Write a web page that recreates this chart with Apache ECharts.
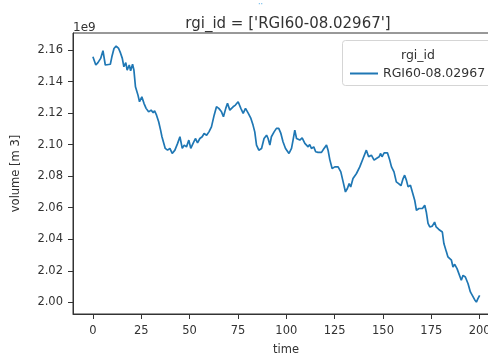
<!DOCTYPE html>
<html>
<head>
<meta charset="utf-8">
<script src="https://cdn.jsdelivr.net/npm/echarts@6/dist/echarts.min.js"></script>
<style>html,body{margin:0;padding:0;background:#fff}#c{width:488px;height:354px}</style>
</head>
<body>
<div id="c"></div>
<script>
// time (years) and volume (in units of 1e9 m3)
var times = [0,1,1.5,2.6,4,5.2,6.4,7.4,9,9.8,10.9,12,13.3,14.3,15.2,16,17,17.7,18.8,19.5,20.5,21.2,22,23.3,24.1,25.3,26.4,27.5,28.8,30.1,31.2,31.9,32.9,34,35,35.7,36.7,37.4,38.6,39.8,41,42.4,43.8,45,46.2,47.2,48.4,49.6,50.6,51.8,53,54.1,55.3,56.5,57.5,58.8,60,61.3,62.7,63.9,65.1,66.5,67.5,68.7,69.6,70.8,71.7,72.5,73.7,75.1,76.5,77.7,78.9,80.3,81.7,82.8,83.7,84.6,85.8,87.2,88.5,89.8,90.6,91.5,92.3,93.7,94.9,96.1,97.2,98.3,99.6,100.6,101.4,102.7,103.5,104.4,105.3,106.1,107,108.2,109.6,110.4,111.3,112.1,113,114.2,115.2,116.4,118.2,119.5,120.8,121.6,122.5,123.7,125.1,126.8,128.2,129.4,130.6,131.6,132.5,133.3,134.5,136.3,138,139.7,141.4,142.6,144,145.4,146.6,148,148.8,149.5,150.6,152.3,153.5,154.4,155.7,156.9,158.1,159.3,160.4,161.2,162.1,163,164.2,165.2,166.4,167.3,168.6,170.4,171.6,172.4,173.3,174.2,175.5,176.7,177.5,178.9,180.7,181.5,182.8,183.6,184.5,185.4,186.2,187.1,188.3,189.3,190.5,191.4,192.6,194,195.2,196.2,197.4,198.3,199.1,200];
var volumes = [2.1557,2.1547,2.1505,2.152,2.1547,2.1596,2.1505,2.1498,2.151,2.1557,2.161,2.1625,2.161,2.158,2.1547,2.1494,2.152,2.1473,2.1505,2.1469,2.151,2.1473,2.1367,2.1314,2.1272,2.1303,2.1262,2.123,2.1208,2.1219,2.1202,2.1215,2.1187,2.1145,2.1092,2.105,2.1039,2.0976,2.0965,2.0976,2.0944,2.0965,2.1008,2.105,2.0976,2.0997,2.0986,2.1029,2.0976,2.1008,2.1039,2.1011,2.1039,2.105,2.1071,2.106,2.1081,2.1113,2.1187,2.124,2.123,2.1208,2.1177,2.123,2.1262,2.1219,2.1208,2.124,2.1251,2.1272,2.123,2.1198,2.123,2.120,2.1166,2.1124,2.1081,2.0997,2.0965,2.0976,2.1039,2.106,2.1039,2.0997,2.105,2.1081,2.1103,2.1103,2.1071,2.1018,2.0976,2.0965,2.0944,2.0976,2.1029,2.1092,2.1039,2.105,2.1029,2.1043,2.1008,2.1018,2.0986,2.1001,2.0976,2.0986,2.0955,2.0951,2.0951,2.0976,2.0997,2.0965,2.0905,2.0849,2.0859,2.0859,2.0827,2.0764,2.07,2.0722,2.0753,2.0732,2.0785,2.0817,2.0859,2.0912,2.0965,2.0923,2.0933,2.0902,2.0912,2.0923,2.0944,2.0923,2.0948,2.0948,2.0902,2.0859,2.0827,2.0764,2.0753,2.074,2.0785,2.0806,2.0775,2.0732,2.0743,2.0732,2.0648,2.0584,2.0595,2.0595,2.0616,2.0573,2.05,2.0478,2.0483,2.0509,2.0478,2.0462,2.0446,2.0373,2.032,2.0288,2.0298,2.0267,2.0224,2.0241,2.0214,2.0203,2.014,2.0171,2.0161,2.0118,2.0066,2.0044,2.0017,2.0002,2.0023,2.0044];
var xTicks = [0,25,50,75,100,125,150,175,200];
var yTicks = [2.00,2.02,2.04,2.06,2.08,2.10,2.12,2.14,2.16];
var seriesName = 'RGI60-08.02967';

var data = times.map(function(t,i){return [t, volumes[i]];});
var FONT = 'DejaVu Sans';
var TXT = '#333';
var chart = echarts.init(document.getElementById('c'), null, {renderer:'canvas'});
chart.setOption({
  animation:false,
  backgroundColor:'#fff',
  title:{text:"rgi_id = ['RGI60-08.02967']", left:283, top:12, textAlign:'center',
    textStyle:{fontFamily:FONT, fontSize:15, fontWeight:'normal', color:TXT}},
  grid:{left:73, top:33, width:426, height:281, outerBoundsMode:'none', containLabel:false,
    show:true, borderColor:'#333', borderWidth:1, backgroundColor:'transparent'},
  legend:{data:[{name:seriesName, icon:'rect'}], left:345, top:62, itemWidth:28, itemHeight:2, itemGap:6, z:10,
    textStyle:{fontFamily:FONT, fontSize:12.5, color:TXT}},
  xAxis:{type:'value', min:-10.3, max:210, name:'time', nameLocation:'middle', nameGap:30,
    nameTextStyle:{fontFamily:FONT, fontSize:11.5, color:TXT},
    axisLine:{show:true, onZero:false, lineStyle:{color:'#333', width:1}},
    axisTick:{show:true, length:5, lineStyle:{color:'#333'}, customValues:xTicks},
    axisLabel:{fontFamily:FONT, fontSize:11.5, color:TXT, margin:11, customValues:xTicks,
      formatter:function(v){return String(v);}},
    splitLine:{show:false}},
  yAxis:{type:'value', min:1.9926, max:2.1708, name:'volume [m 3]', nameLocation:'middle', nameGap:51,
    nameTextStyle:{fontFamily:FONT, fontSize:11.5, color:TXT},
    axisLine:{show:true, onZero:false, lineStyle:{color:'#333', width:1}},
    axisTick:{show:true, length:5, lineStyle:{color:'#333'}, customValues:yTicks},
    axisLabel:{fontFamily:FONT, fontSize:11.5, color:TXT, margin:10, customValues:yTicks,
      formatter:function(v){return v.toFixed(2);}},
    splitLine:{show:false}},
  graphic:[
    {type:'rect', shape:{x:342.5, y:40.5, width:160, height:45, r:3},
      style:{fill:'rgba(255,255,255,0.8)', stroke:'#d5d5d5', lineWidth:1}, z:3},
    {type:'text', x:418, y:49, style:{text:'rgi_id', fontFamily:FONT, fontSize:12.5, fill:TXT, textAlign:'center'}, z:10},
    {type:'text', x:73, y:22, style:{text:'1e9', fontFamily:FONT, fontSize:12, fill:TXT}},
    {type:'text', x:258, y:1, style:{text:'··', fontFamily:FONT, fontSize:8, fill:'#5ab0e8'}}
  ],
  series:[{type:'line', name:seriesName, data:data, symbol:'none', showSymbol:false, clip:false,
    lineStyle:{color:'#1f77b4', width:1.7}, itemStyle:{color:'#1f77b4'}}]
});
</script>
</body>
</html>
